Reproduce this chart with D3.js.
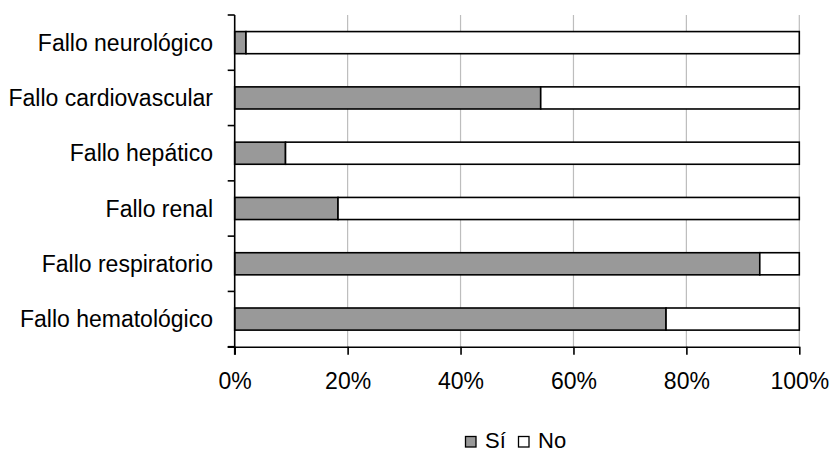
<!DOCTYPE html>
<html>
<head>
<meta charset="utf-8">
<script src="https://cdn.jsdelivr.net/npm/d3@7"></script>
<style>
  html, body { margin: 0; padding: 0; background: #fff; }
  svg { display: block; }
  text { font-family: "Liberation Sans", Arial, sans-serif; fill: #000; }
</style>
</head>
<body>
<svg id="chart" width="831" height="452"></svg>
<script>
// Organ failure categories, top to bottom
const categories = [
  "Fallo neurológico",
  "Fallo cardiovascular",
  "Fallo hepático",
  "Fallo renal",
  "Fallo respiratorio",
  "Fallo hematológico"
];
// Share of "Sí" per category (%); "No" is the remainder to 100%
const siValues = [2, 54.2, 9, 18.3, 93, 76.4];
const noValues = siValues.map(v => 100 - v);
const xTicks = [0, 20, 40, 60, 80, 100];
const seriesNames = ["Sí", "No"];
const seriesColors = ["#999999", "#ffffff"];

const FONT = 23;
const svg = d3.select("#chart");
const W = 831, H = 452;
const margin = { left: 234.7, right: W - 799.3, top: 15, bottom: H - 346.7 };

const x = d3.scaleLinear().domain([0, 100]).range([margin.left, W - margin.right]);
const y = d3.scaleBand().domain(categories)
  .range([margin.top, H - margin.bottom])
  .paddingInner(0.6).paddingOuter(0.3);

// vertical gridlines
svg.append("g")
  .selectAll("line")
  .data(xTicks.filter(t => t > 0))
  .join("line")
  .attr("x1", d => x(d)).attr("x2", d => x(d))
  .attr("y1", margin.top).attr("y2", H - margin.bottom)
  .attr("stroke", "#bdbdbd").attr("stroke-width", 1.2);

// stacked bars
const stackData = categories.map((c, i) => ({ cat: c, si: siValues[i], no: noValues[i] }));
const stack = d3.stack().keys(["si", "no"])(stackData);

svg.append("g")
  .selectAll("g")
  .data(stack)
  .join("g")
  .attr("fill", (d, i) => seriesColors[i])
  .selectAll("rect")
  .data(d => d)
  .join("rect")
  .attr("x", d => x(d[0]))
  .attr("width", d => x(d[1]) - x(d[0]))
  .attr("y", d => y(d.data.cat))
  .attr("height", y.bandwidth())
  .attr("stroke", "#000")
  .attr("stroke-width", 1.6);

// x axis
const xAxis = d3.axisBottom(x)
  .tickValues(xTicks)
  .tickFormat(d => d + "%")
  .tickSize(8)
  .tickPadding(18);
const gx = svg.append("g")
  .attr("transform", `translate(0,${H - margin.bottom})`)
  .call(xAxis)
  .attr("font-size", FONT)
  .attr("font-family", "Liberation Sans, Arial, sans-serif");
gx.select(".domain").attr("stroke", "#000").attr("stroke-width", 1.6)
  .attr("d", `M${margin.left - 7},0.5H${W - margin.right}`);
gx.selectAll(".tick line").attr("stroke", "#000").attr("stroke-width", 1.6);
gx.selectAll(".tick text").attr("fill", "#000");

// y axis: ticks at band boundaries, labels centred on bands
const step = y.step();
const boundaries = d3.range(categories.length + 1).map(i => margin.top + i * step);
const gy = svg.append("g");
gy.append("line")
  .attr("x1", margin.left).attr("x2", margin.left)
  .attr("y1", margin.top).attr("y2", H - margin.bottom + 8)
  .attr("stroke", "#000").attr("stroke-width", 1.6);
gy.selectAll("line.tk")
  .data(boundaries)
  .join("line")
  .attr("class", "tk")
  .attr("x1", margin.left - 7).attr("x2", margin.left)
  .attr("y1", d => d).attr("y2", d => d)
  .attr("stroke", "#000").attr("stroke-width", 1.6);
gy.selectAll("text")
  .data(categories)
  .join("text")
  .attr("x", 213)
  .attr("y", d => y(d) + y.bandwidth() / 2)
  .attr("dy", "0.35em")
  .attr("text-anchor", "end")
  .attr("font-size", FONT)
  .text(d => d);

// legend
const legend = svg.append("g");
const legendItems = [
  { name: seriesNames[0], color: seriesColors[0], sx: 465.5, tx: 485 },
  { name: seriesNames[1], color: seriesColors[1], sx: 518.5, tx: 538 }
];
legendItems.forEach(it => {
  legend.append("rect")
    .attr("x", it.sx).attr("y", 436.5).attr("width", 10.5).attr("height", 10.5)
    .attr("fill", it.color).attr("stroke", "#000").attr("stroke-width", 1.3);
  legend.append("text")
    .attr("x", it.tx).attr("y", 448)
    .attr("font-size", FONT - 1)
    .text(it.name);
});
</script>
</body>
</html>
